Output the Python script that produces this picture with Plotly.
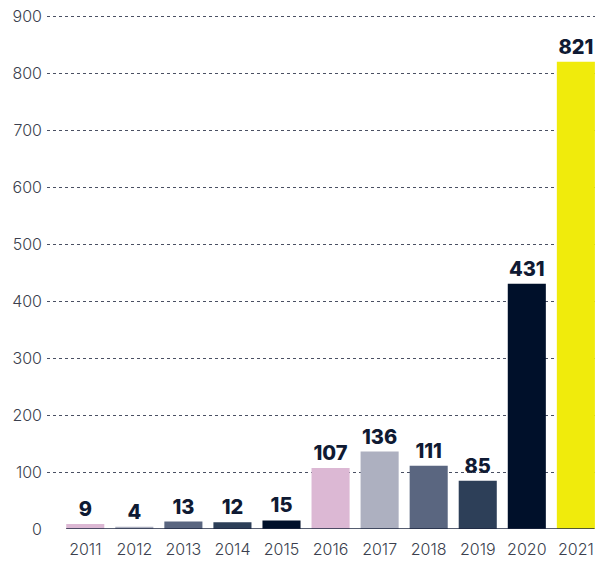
import plotly.graph_objects as go

years = ["2011", "2012", "2013", "2014", "2015", "2016", "2017", "2018", "2019", "2020", "2021"]
values = [9, 4, 13, 12, 15, 107, 136, 111, 85, 431, 821]
colors = ["#dcb8d4", "#adb0c0", "#5a6680", "#2d3f58", "#00102a",
          "#dcb8d4", "#adb0c0", "#5a6680", "#2d3f58", "#00102a", "#f0eb0c"]
y_ticks = [0, 100, 200, 300, 400, 500, 600, 700, 800, 900]

fig = go.Figure()
fig.add_trace(go.Bar(
    x=list(range(len(years))), y=values,
    marker=dict(color=colors, line=dict(width=0)),
    text=[str(v) for v in values], textposition="outside",
    textfont=dict(family="Inter", size=20, color="#0f1a33", weight=800),
    cliponaxis=False, hoverinfo="skip",
))

fig.add_shape(type="line", xref="x", yref="y", x0=-0.39, x1=10.38, y0=0, y1=0,
              line=dict(color="#1e2740", width=1.5))

fig.update_layout(
    width=595, height=564,
    margin=dict(l=47, r=0, t=14, b=35),
    paper_bgcolor="white", plot_bgcolor="white",
    bargap=0.224, showlegend=False,
    xaxis=dict(range=[-0.78, 10.39], tickmode="array", tickvals=list(range(len(years))),
               ticktext=years, showgrid=False, zeroline=False, showline=False,
               tickfont=dict(family="Inter", size=16, color="#3b3f4e", weight=300),
               ticks="outside", ticklen=6, tickcolor="rgba(0,0,0,0)"),
    yaxis=dict(range=[0, 905], tickmode="array", tickvals=y_ticks,
               showgrid=True, gridcolor="#4a5063", gridwidth=1, griddash="3px,3px",
               zeroline=False, showline=False,
               tickfont=dict(family="Inter", size=16, color="#3b3f4e", weight=300),
               ticklabelstandoff=4),
)

fig.write_html("out.html", config={"displayModeBar": False},
               post_script="document.body.style.margin='0';")
